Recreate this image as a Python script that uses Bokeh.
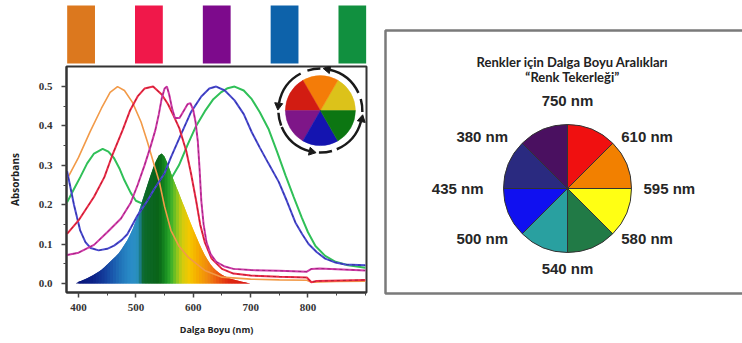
import math
import numpy as np
from bokeh.plotting import figure
from bokeh.layouts import row, column
from bokeh.models import Range1d, FixedTicker, PrintfTickFormatter
from bokeh.core.properties import value
from bokeh.embed import file_html
from bokeh.resources import INLINE

# ---------------- data ----------------
sample_index = [0, 1, 2, 3, 4]
sample_colors = ["#dc781e", "#f0184a", "#7d0a8c", "#0d62aa", "#11903f"]

orange_nm = [380, 400, 420, 440, 455, 468, 480, 494, 509, 520, 532, 541, 550, 561, 575, 591, 620, 650, 700, 750, 798, 806, 850, 900]
orange_abs = [0.265, 0.32, 0.385, 0.445, 0.485, 0.5, 0.49, 0.46, 0.41, 0.36, 0.30, 0.257, 0.195, 0.135, 0.095, 0.067, 0.033, 0.016, 0.011, 0.009, 0.008, 0.003, 0.005, 0.006]

red_nm = [380, 400, 427, 445, 460, 477, 490, 503, 515, 530, 545, 556, 566, 576, 588, 596, 605, 612, 620, 632, 650, 670, 700, 750, 798, 806, 815, 900]
red_abs = [0.126, 0.16, 0.22, 0.27, 0.33, 0.39, 0.44, 0.475, 0.495, 0.5, 0.48, 0.455, 0.425, 0.393, 0.335, 0.28, 0.21, 0.15, 0.105, 0.063, 0.037, 0.025, 0.02, 0.017, 0.015, 0.003, 0.006, 0.009]

magenta_nm = [380, 400, 427, 450, 474, 491, 503, 515, 526, 534, 540, 545, 550, 554, 558, 563, 568, 576, 584, 590, 595, 600, 604, 608, 611, 614, 618, 623, 630, 640, 655, 670, 700, 750, 798, 806, 820, 900]
magenta_abs = [0.072, 0.078, 0.098, 0.13, 0.165, 0.205, 0.25, 0.30, 0.35, 0.39, 0.43, 0.47, 0.495, 0.5, 0.48, 0.445, 0.42, 0.42, 0.44, 0.455, 0.458, 0.44, 0.41, 0.36, 0.29, 0.21, 0.15, 0.105, 0.075, 0.055, 0.043, 0.037, 0.034, 0.032, 0.03, 0.037, 0.038, 0.033]

blue_nm = [380, 385, 392, 403, 412, 421, 435, 450, 462, 475, 485, 503, 520, 532, 550, 561, 579, 596, 614, 628, 640, 655, 672, 688, 702, 716, 731, 749, 763, 778, 790, 801, 815, 830, 848, 865, 900]
blue_abs = [0.285, 0.25, 0.2, 0.134, 0.105, 0.09, 0.084, 0.088, 0.096, 0.11, 0.125, 0.173, 0.21, 0.24, 0.28, 0.32, 0.38, 0.435, 0.475, 0.495, 0.5, 0.49, 0.465, 0.43, 0.384, 0.345, 0.305, 0.258, 0.21, 0.155, 0.125, 0.1, 0.08, 0.063, 0.053, 0.048, 0.046]

green_nm = [380, 392, 403, 415, 427, 442, 452, 462, 472, 480, 491, 500, 515, 530, 545, 561, 575, 591, 605, 620, 635, 649, 660, 672, 688, 702, 716, 731, 746, 761, 775, 789, 800, 813, 830, 848, 870, 900]
green_abs = [0.206, 0.24, 0.27, 0.305, 0.33, 0.342, 0.335, 0.318, 0.29, 0.262, 0.23, 0.21, 0.2, 0.205, 0.225, 0.265, 0.3, 0.355, 0.4, 0.437, 0.468, 0.486, 0.496, 0.5, 0.49, 0.468, 0.435, 0.393, 0.335, 0.274, 0.22, 0.168, 0.13, 0.095, 0.07, 0.055, 0.046, 0.04]

# visible-light spectrum (filled hump)
light_nm = list(range(395, 701, 5))
light_val = [0.0, 0.004, 0.007, 0.010, 0.013, 0.017, 0.021, 0.025, 0.030, 0.035, 0.041, 0.048, 0.055, 0.062,
             0.069, 0.077, 0.087, 0.098, 0.110, 0.124, 0.140, 0.160, 0.182, 0.205, 0.228, 0.250, 0.272, 0.293,
             0.311, 0.325, 0.330, 0.322, 0.305, 0.285, 0.265, 0.247, 0.229, 0.210, 0.192, 0.173, 0.155, 0.137,
             0.120, 0.103, 0.087, 0.072, 0.060, 0.049, 0.040, 0.033, 0.027, 0.022, 0.018, 0.015, 0.012, 0.010,
             0.008, 0.006, 0.004, 0.003, 0.001, 0.0]

x_ticks = [400, 500, 600, 700, 800]
x_minor = [400, 450, 500, 550, 600, 650, 700, 750, 800, 850, 900]
y_ticks = [0.0, 0.1, 0.2, 0.3, 0.4, 0.5]
y_minor = [0.0, 0.05, 0.1, 0.15, 0.2, 0.25, 0.3, 0.35, 0.4, 0.45, 0.5]
x_label = "Dalga Boyu (nm)"
y_label = "Absorbans"

# small 6-colour wheel (yellow, orange, red, purple, blue, green - anticlockwise from 0 deg)
wheel6_colors = ["#dcc21a", "#f47c08", "#d21c12", "#7e1688", "#1414b0", "#0c7612"]

# right panel: 8-colour wheel, clockwise from top
wheel8_colors = ["#f01010", "#f28000", "#ffff14", "#217a46", "#29a0a0", "#1010f0", "#2a2a80", "#4a1060"]
wheel8_labels = ["750 nm", "610 nm", "595 nm", "580 nm", "540 nm", "500 nm", "435 nm", "380 nm"]
title_lines = ["Renkler için Dalga Boyu Aralıkları", "\u201cRenk Tekerleği\u201d"]

# ---------------- layout constants ----------------
X0, X1 = 379, 902
Y0, Y1 = -0.023, 0.551
FW, FH = 298, 226
SX = FW / (X1 - X0)
SY = FH / (Y1 - Y0)

spectrum_stops = [(395, "#0a1478"), (425, "#0c2288"), (445, "#143e9c"), (460, "#1a5aae"), (475, "#2277bb"),
                  (490, "#2a8cc8"), (502, "#2a90c0"), (508, "#1a7a80"), (513, "#0d6a2c"), (540, "#0a6418"),
                  (550, "#158820"), (560, "#30ac2c"), (570, "#80c420"), (580, "#d0cc10"), (593, "#f5c800"),
                  (608, "#f6aa00"), (625, "#f08a10"), (642, "#ec5a10"), (662, "#e02a10"), (700, "#d81818")]


def hex2rgb(h):
    return [int(h[i:i + 2], 16) for i in (1, 3, 5)]


def spec_color(nm):
    xs = [s[0] for s in spectrum_stops]
    cols = np.array([hex2rgb(s[1]) for s in spectrum_stops], dtype=float)
    r = np.interp(nm, xs, cols[:, 0]); g = np.interp(nm, xs, cols[:, 1]); b = np.interp(nm, xs, cols[:, 2])
    return "#%02x%02x%02x" % (int(r), int(g), int(b))


common = dict(output_backend="svg", toolbar_location=None)

LEFT_W = 370
# ---- colour sample bars ----
bars = figure(width=LEFT_W, height=64, x_range=Range1d(-0.215, 4.208), y_range=Range1d(0, 64),
              x_axis_type=None, y_axis_type=None, min_border_left=66, min_border_right=4,
              min_border_top=0, min_border_bottom=0, **common)
bars.outline_line_color = None
bars.grid.visible = False
bars.vbar(x=sample_index, width=0.41, bottom=1, top=59, fill_color=sample_colors, line_color=None)

# ---- absorbance chart ----
p1 = figure(width=LEFT_W, height=279, x_range=Range1d(X0, X1), y_range=Range1d(Y0, Y1),
            min_border_left=66, min_border_right=4, min_border_top=2, min_border_bottom=51, **common)
p1.grid.visible = False
p1.outline_line_color = "#333333"
p1.outline_line_width = 2
p1.xaxis.ticker = FixedTicker(ticks=x_ticks, minor_ticks=x_minor)
p1.yaxis.ticker = FixedTicker(ticks=y_ticks, minor_ticks=y_minor)
p1.yaxis.formatter = PrintfTickFormatter(format="%.1f")
for ax in (p1.xaxis[0], p1.yaxis[0]):
    ax.axis_line_color = "#333333"
    ax.axis_line_width = 2
    ax.major_tick_in = 0
    ax.major_tick_out = 5
    ax.minor_tick_in = 0
    ax.minor_tick_out = 3
    ax.major_tick_line_color = "#444444"
    ax.minor_tick_line_color = "#444444"
    ax.major_tick_line_width = 1.5
    ax.major_label_text_font = "Liberation Serif"
    ax.major_label_text_font_style = "bold"
    ax.major_label_text_font_size = "11px"
    ax.major_label_text_color = "#333333"
    ax.axis_label_text_font = "Open Sans"
    ax.axis_label_text_font_style = "bold"
    ax.axis_label_text_color = "#222222"
p1.xaxis.axis_label = x_label
p1.yaxis.axis_label = y_label
p1.xaxis.axis_label_text_font_size = "9px"
p1.yaxis.axis_label_text_font_size = "10px"
p1.xaxis.major_label_standoff = 6
p1.yaxis.major_label_standoff = 9
p1.xaxis.axis_label_standoff = 9
p1.yaxis.axis_label_standoff = 14

# green line goes behind the light spectrum
p1.line(green_nm, green_abs, line_color="#30c058", line_width=2)

# light spectrum as coloured slices; each slice also spans the following interval
# (covered by the next slice) so no seams appear between slices
xs, ys, cs = [], [], []
N = len(light_nm)
for i in range(N - 1):
    j = min(i + 2, N - 1)
    px = light_nm[i:j + 1]
    py = light_val[i:j + 1]
    xs.append([px[0]] + px + [px[-1]])
    ys.append([0] + py + [0])
    cs.append(spec_color((light_nm[i] + light_nm[i + 1]) / 2))
p1.patches(xs, ys, fill_color=cs, line_color=None)

p1.line(orange_nm, orange_abs, line_color="#f29a48", line_width=1.6)
p1.line(blue_nm, blue_abs, line_color="#4a4ad2", line_width=2)
p1.line(blue_nm, blue_abs, line_color="#1c1c6a", line_width=1, line_dash="3 3", line_alpha=0.5)
p1.line(red_nm, red_abs, line_color="#ee2c48", line_width=2)
p1.line(red_nm, red_abs, line_color="#7a1020", line_width=1, line_dash="3 3", line_alpha=0.5)
p1.line(magenta_nm, magenta_abs, line_color="#d03aa8", line_width=2)
p1.line(magenta_nm, magenta_abs, line_color="#6a1050", line_width=1, line_dash="3 3", line_alpha=0.5)

# inset colour wheel with circular arrows
cx, cy = 821.6, 0.439
p1.wedge(x=cx, y=cy, radius=35, radius_units="screen",
         start_angle=[math.radians(60 * k) for k in range(6)],
         end_angle=[math.radians(60 * (k + 1)) for k in range(6)],
         fill_color=wheel6_colors, line_color=wheel6_colors, line_width=0.5)
arrow_angles = [80, 173, 258, 348]
ra = 42
for a in arrow_angles:
    p1.arc(x=cx, y=cy, radius=ra, radius_units="screen", start_angle=math.radians(a - 55),
           end_angle=math.radians(a - 3), line_color="#1a1a1a", line_width=2.5)
    p1.arc(x=cx, y=cy, radius=ra, radius_units="screen", start_angle=math.radians(a + 10),
           end_angle=math.radians(a + 28), line_color="#1a1a1a", line_width=2.5)
ax_ = [cx + ra * math.cos(math.radians(a)) / SX for a in arrow_angles]
ay_ = [cy + ra * math.sin(math.radians(a)) / SY for a in arrow_angles]
p1.scatter(ax_, ay_, marker="triangle", size=8, angle=[math.radians(a) for a in arrow_angles],
           fill_color="#1a1a1a", line_color="#1a1a1a")

# ---- right panel: colour wheel with wavelength ranges ----
W2, H2 = 372, 343
p2 = figure(width=W2, height=H2, x_range=Range1d(0, W2), y_range=Range1d(0, H2),
            x_axis_type=None, y_axis_type=None, min_border=0, **common)
p2.outline_line_color = None
p2.grid.visible = False
p2.quad(left=15, right=W2 + 20, bottom=50, top=313, fill_color=None, line_color="#7a7a7a", line_width=2.5)
p2.text(x=[202, 202], y=[282, 267], text=title_lines, text_font=value("Lato"), text_font_style="bold",
        text_font_size="13px", text_align="center", text_baseline="middle", text_color="#222222")
pcx, pcy, pr = 197, 155, 64
n = len(wheel8_colors)
step = 360 / n
p2.wedge(x=pcx, y=pcy, radius=pr,
         start_angle=[math.radians(90 - step * (i + 1)) for i in range(n)],
         end_angle=[math.radians(90 - step * i) for i in range(n)],
         fill_color=wheel8_colors, line_color="#333333", line_width=1)
lx, ly, la = [], [], []
for i, lab in enumerate(wheel8_labels):
    th = math.radians(90 - step * i)
    c, s = math.cos(th), math.sin(th)
    pad_x = 12 if c > 0 else 20
    pad_y = 4 + (20 if s > 0 else 12) * s ** 4
    lx.append(pcx + (pr + pad_x) * c)
    ly.append(pcy + (pr + pad_y) * s)
    la.append("left" if c > 0.2 else ("right" if c < -0.2 else "center"))
p2.text(x=lx, y=ly, text=wheel8_labels, text_align=la, text_baseline="middle",
        text_font=value("Liberation Sans"), text_font_style="bold", text_font_size="15px", text_color="#262626")

layout = row(column(bars, p1), p2)
open("out.html", "w").write(file_html(layout, INLINE))
